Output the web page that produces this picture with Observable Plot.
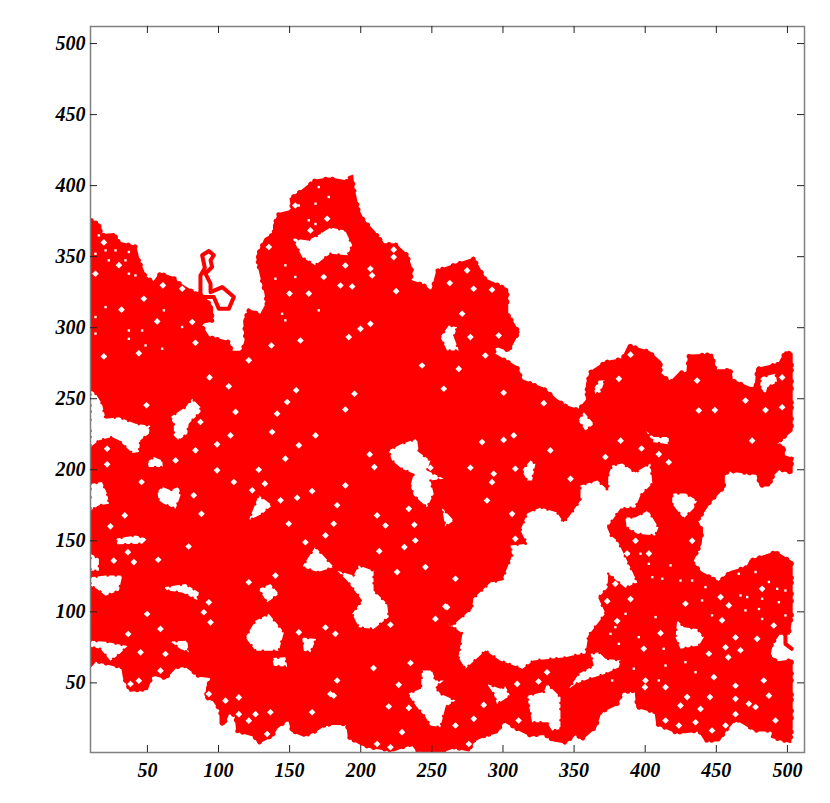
<!DOCTYPE html>
<html><head><meta charset="utf-8">
<script src="https://cdn.jsdelivr.net/npm/d3@7"></script>
<script src="https://cdn.jsdelivr.net/npm/@observablehq/plot@0.6"></script>
<style>html,body{margin:0;padding:0;background:#fff}svg{display:block}</style>
</head><body><div id="chart"></div>
<script>
const tickValues = [50,100,150,200,250,300,350,400,450,500];
const outline = [[10.5,375.6],[17,372],[17,365],[26.4,366],[30,360],[41.6,357],[44,347],[48.7,335.7],[54.5,332],[59,338],[68.6,335],[71,332],[79,327],[84,324],[87,325],[95.5,314.5],[95.5,305],[87,303],[93,293.4],[107,290],[109.6,283],[116.6,283],[119,291],[118,305],[121.3,312],[127,311],[128.3,306.3],[134,317],[133,324],[129.5,338],[127,350],[133,362.6],[139,366],[139,372],[142.4,380],[152,382.6],[150.6,390.8],[159,396.7],[168,403.7],[177.5,405],[185,404],[190,403],[194,407],[195,398],[198.4,382.6],[202,375.5],[209,368],[216,359],[224.4,358.6],[232.6,351],[236,340],[235,333],[244,330],[250,325],[253.7,340],[265.4,344],[279.5,348.5],[287.6,334],[303,327],[303,310],[311,297],[304,284],[294.7,287.5],[293.5,281.6],[310,272],[313.4,263],[328.7,257],[338,249],[344,245],[353,242],[359,249],[359,260.5],[361.6,268.7],[372,275.7],[384,278],[388.5,287.4],[402.6,283],[410.8,275.7],[410.8,267.5],[417.8,261.6],[424.8,268.7],[429.5,267.5],[430.7,280.4],[447,281],[449.4,270],[460,270],[461,263],[472.9,258],[477.6,257],[478.7,271],[494,274.5],[498.6,282.7],[503,281.6],[503,227.6],[491.6,218],[497.5,215.9],[497.5,210],[503,207.6],[503,198],[494,200.6],[490.4,197],[487,189],[481,189],[478.7,197],[458.8,199.4],[455.3,196],[455.3,187.7],[446,178],[436.5,164],[440,157],[439,148],[433,135],[439,128],[451.8,121],[460,128],[471.7,131.5],[474,136],[491.6,142],[503,135],[503,97.5],[501,84.5],[494,84.5],[489,77.5],[487.4,69],[492.8,64.6],[503,65.8],[503,16.5],[502,8.3],[489,11.8],[490.4,16.5],[477.6,16.5],[463.5,24.7],[456.5,16.5],[451.8,9.4],[442.4,9.4],[437.7,16.5],[428.3,15.3],[421.3,15.3],[408.4,21],[407.3,29.4],[394.4,33],[393.2,44.6],[383.8,43.5],[380.3,35],[368.6,29.4],[365,18.8],[355.7,10.6],[351,14],[344,8],[335.7,9.4],[328.7,14],[319.3,13],[310,17.6],[300.5,23.5],[295.8,15.3],[287.6,13],[279.5,9.4],[276,2.4],[265.4,4.7],[256,1.2],[239.6,2.4],[236,7],[229,4.7],[223,2.4],[206.8,4.7],[199.8,7],[191.6,11.8],[190.4,21],[178.7,21],[174,20],[168,16],[160,12.8],[151.8,16.3],[149.4,24.6],[141.2,18.7],[137.7,12.8],[128.3,8],[124.8,12.8],[113.1,16.3],[112,27],[107.2,29],[103.7,21],[101.4,22],[101.4,30.4],[96.7,37.5],[91.3,39.8],[92,46.9],[95.5,54],[86,55],[76.8,62],[69.8,61],[62.7,53.4],[53.4,56],[49.8,45.7],[38,44.5],[33.4,54],[32.3,61],[13.5,65.6],[10.5,62]];
const strandSpur = [[87.3,324],[87.3,336.8],[90.4,342],[88.5,351],[93.2,354],[96.7,351],[94.4,347.4],[95.5,342.7],[90.8,338],[94.4,331],[94.4,325],[102.6,328.6],[110.8,321.6],[107.3,313.4],[100.2,313.4],[96.7,321.6],[87.3,321.6]];
const strandRight = [[498.6,84],[498.6,77.5],[503,74]];
const gaps = [
[[263,89],[278.3,102.4],[279.2,109.4],[291.2,120.7],[299.4,122],[303,131],[306.5,139.7],[305.3,146.7],[317,148],[312.3,157.3],[317,169.3],[326.4,173.5],[338,170],[342.5,163],[346,166.4],[354.5,178.4],[354.5,189],[366.4,192.5],[374,185.4],[374,196],[376.8,203],[384,204.5],[393,198],[403.7,204.5],[405,190.4],[396.7,182],[393,173.5],[382.6,172.8],[373.2,159.4],[375.6,153.8],[380.5,150],[388.2,134],[394.5,120.7],[386,117],[374,127],[373.5,117],[367,110],[372,99],[360,83.4],[358,70.7],[349,69.3],[344,68],[321.4,65.8],[313.7,60],[298,65.8],[287.7,72.8],[273.6,60],[268.7,68],[271.5,84.8],[261.7,91.8]],
[[10,256],[13.5,253.6],[18,246.5],[20.6,236],[30,237],[41.6,232.4],[52,231],[51,225.4],[45,220.7],[44,212.5],[39.3,211.8],[30,220.7],[25,223],[16,220.7],[10,216]],
[[66,237],[76.8,244],[81.5,250],[87.3,244],[87.3,240.7],[79,232.4],[78,225.4],[72,220.7],[68.6,224.2],[68.6,232.4]],
[[50,205.5],[54.5,209],[60.4,206.6],[60.9,202],[51,202]],
[[10,190],[18,191.4],[21.7,183],[23,176],[16,175],[10,171.4]],
[[57,184.3],[60.4,188],[66.2,185.5],[72,188],[73.3,182],[69.8,172.6],[61.6,176],[58,178.5]],
[[121.3,164.4],[128.3,182],[137.7,175],[130.7,169]],
[[27.6,151.5],[41.6,153.8],[50,151.5],[46.3,148],[28.8,147.5]],
[[158.8,131.5],[168,145.6],[181,131.5],[170,128]],
[[152,363],[162.6,361.4],[170,365],[178.7,370.6],[189,368.5],[194,358],[190.7,351],[178.7,352],[175,349.5],[168,344],[159,349.5]],
[[256,293.4],[261.9,301.6],[267.7,300.4],[265.4,293.4],[269,284],[260.7,284]],
[[364,257],[367.4,262.8],[371.6,262.8],[368.6,254.6],[365,253.4]],
[[353,234.6],[356.9,240.5],[363.9,232.3],[358,227.6]],
[[400.2,227.6],[406,223],[416.6,223],[416.6,218],[406,219.4]],
[[481,265],[491.6,267.5],[492.8,261.6],[485.8,258],[484.6,253.4],[481,258]],
[[386,166.4],[393,166.4],[402,171.4],[409.3,159.4],[407,153.8],[394.5,155],[387,159.4]],
[[419,183.3],[428.3,183.3],[436.5,178.4],[434,172.8],[427,165.7],[419,176]],
[[422.5,94],[427.2,89.2],[436.5,88],[441.2,82.2],[437.7,76.3],[424.8,74],[421.3,82.2]],
[[346.3,45.8],[353.4,56.4],[363.9,62.2],[361.6,70.5],[367.4,71.6],[372,67],[382.7,65.8],[381.5,61],[372,56.4],[360.4,52.9],[351,49.3]],
[[219.7,213.6],[229,218.3],[239.6,221.8],[240.8,212.4],[249,206.6],[246.6,199.5],[258.4,193.7],[249,192.5],[251.3,183],[246.6,173.7],[237.3,182],[235,189],[237.3,197.2],[229,200.7],[222,206.6]],
[[183.4,129],[195,125.6],[198.6,132.7],[209,129],[209,115],[218.5,105.7],[219.7,96.3],[209,88],[198.6,89.2],[194,98.6],[201,108],[190.4,122]],
[[313.4,199.5],[319.3,206.6],[322.8,204.2],[320.5,192.5],[317,192.5]],
[[257,173.3],[265.4,164.3],[259.5,160.1]],
[[233,42.3],[242.4,45.8],[243,58.7],[250,58.7],[252.5,51.7],[258.4,51.7],[252.5,47],[256,42.3],[266.6,37.6],[259.5,32.9],[256,18.8],[249,20],[245.5,25.9],[239.6,32.9]],
[[288.8,49.3],[298.2,45.8],[301.7,47.4],[305,41],[295.8,35.2],[293.5,42.3]],
[[317,41],[328.7,43.5],[331,49.3],[340.4,40],[340.4,17.6],[334.5,16.5],[331,22.3],[320.5,22.3]],
[[10,124.3],[20.6,125.5],[32.3,125.5],[30,115],[20.6,111.4],[14.7,116],[10,118.4]],
[[10,141],[15.9,137.4],[15.9,129],[10,129]],
[[119,82],[126,93.8],[135.4,98.5],[146,85.6],[142.4,72.7],[126,72.7]],
[[61.6,117.3],[76.8,119.6],[86.2,113.7],[85,108.3],[74.4,113.7],[64,115]],
[[128.3,116],[136.5,119.6],[142.4,112.6],[134.2,106.7]],
[[158.8,82],[168.6,80.9],[164.7,71.5],[160,72.7]],
[[137.7,67.5],[147,68],[148.3,61.4],[138.9,62]],
[[66.2,79.2],[78,79.7],[79.1,71.5],[73.3,73.8]],
[[10,79.7],[20.6,79],[36,76],[30,70],[24,65.6],[17,74],[10,75.5]]
];
const holes = [[107.2,258.7],[148.3,247.7],[141.2,239.5],[112,240.7],[137.7,226.6],[108.4,224.2],[168.2,224.2],[83.8,213.7],[99,217.9],[21.7,214.8],[21.7,203.8],[69.8,206.6],[147,207.8],[156.5,217.2],[128.3,200],[99,199.6],[110.8,191.4],[123.7,185.5],[165.8,185],[155.3,180.3],[82.6,182],[45.9,191.4],[34.1,167.9],[88,169],[24,160.2],[149.4,162],[161.1,149],[36.3,142],[40.5,135],[26.4,136],[57.6,136.7],[79,146],[154.6,256],[93.7,265],[87.3,233.6],[49.4,245.4],[143.6,178.5],[175.2,153.8],[132.6,190.2],
[47.5,320.4],[13.5,338],[30,344],[19.4,360],[56.9,304.4],[81.5,304],[83.8,289.4],[19.4,279.8],[44,282],[31.8,312.7],[60.9,329.8],[74.5,327.4],[163.5,324],[174,335.7],[137.2,287.5],[121.3,277],[157.6,291],[149.9,324],[135.4,356.8],[164.6,368.5],[176.4,376.7],[154,386],
[185.7,329.7],[194,329],[224.9,325.7],[274.8,340.3],[262.6,331.4],[279.4,327.4],[292.3,326.7],[271.3,309.8],[287.6,280.4],[297,294.5],[243.1,273.4],[268.9,271],[258.4,257],[300.5,254.2],[328.7,246.9],[195.6,253.5],[189.2,242.4],[206.8,302.7],[191.6,293.4],[223.2,349.7],[206.8,341.5],[208,336.8],[223.2,354.9],[277.1,293.4],[199.8,299.2],[189.2,343.8],
[381.5,264],[389.7,281],[409.6,211],[372,209],[397.4,215],[382.7,220.5],[416.6,205.3],[470.5,248.7],[437.7,241.7],[449,242],[475.2,220.5],[484.6,242],[496.3,244],[436.5,262.8],[347.5,193.6],[496.3,265],
[428.3,105.7],[458.8,104.5],[453,110.4],[433,150],[400.2,51.7],[399.8,47],[456.5,75],[458.4,68],[463.5,82],[478.7,81],[490.4,90.4],[467,73],[444.8,70.5],[448.3,54],[463.5,48],[429.5,40],[445.5,40],[463.5,38.8],[472.9,35.3],[438.9,31.7],[414.3,47],[424.8,34],[491.6,23.5],[487,41],[477.6,33],[483.4,51.7],[454,94],[399,74],[410.8,85],[389.7,109],[373.3,107.5],[380.3,93.5],[379,119.7],[387.3,141],[402.6,141],[393.2,150],[482.2,116.2],[447,16.5],[456.5,20],[463.5,28],[414.3,23.5],[423.7,20],[435.4,22.3],
[306.4,169],[288.8,178.4],[285.3,219.5],[307.6,224.2],[300.5,221],[333.3,213.6],[230.7,145.6],[238.4,150.2],[237.7,161.3],[217.4,160.8],[233.8,172.5],[225.6,128],[213,142.7],[209.6,201.9],[206.3,210.8],[189.2,189],[211.5,167.9],[183.4,175],[181,162],[249,201.4],[277.1,201.4],[293.5,197.2],[292.3,191.3],[266.6,123.3],[245.5,131.5],[259.5,103.8],[252.5,95],[220.9,90.9],[308.7,200.7],[308.7,151.4],
[182.2,84.5],[235,64],[226.7,48.6],[181,41],[219.7,33.4],[233.8,32.4],[183.4,51.7],[209,60.4],[229,15.3],[266.6,20],[276,7],[211.5,7],[220.9,4.7],[311,23.5],[310,49.3],[325,51],[331,57.5],[286.5,34.5],[279.5,24.7],[260.7,103.3],
[94.4,92.6],[59.2,88],[36.5,84.4],[49.8,98.5],[62.7,70.3],[89.7,99.7],[178.7,42.2],[104.9,37.5],[136.5,29.3],[165.8,29.3],[121.3,120.8],[140,125.5],[59.2,58.6],[38.1,49.2],[44,51.5],[114.3,28],[126,28],[121.3,23.4],[134.2,14],[93.2,106.7],[175.2,89],[156.5,85.6],[45.2,71.5],[93.2,42.2],[114.3,39.8]];
const specks = [[405,124.4],[412,123.3],[433,122],[442.4,117.4],[465.8,126.8],[477.6,128],[487,121],[492.8,116.2],[498.6,115],[467,111.5],[471.7,110.4],[482.2,109.2],[494,106.8],[480,102],[498.6,97.5],[482.2,95],[470.5,101],[440,108],[447,97.5],[407.3,96.3],[386.2,98.6],[379,89.2],[375.6,84.5],[395.5,82.2],[381.5,77.5],[413,74],[428.3,64.6],[435.4,57.5],[409.6,51.7],[414.3,62.2],[392,60],[376.8,51.7],[402.6,133.8],[388.5,140.9],[396.7,140.9],[417.8,132.7],[424.8,122],
[20.6,314.5],[13.5,307.5],[13.5,295.8],[37,298],[46.3,298],[61.6,312.2],[74.4,300.5],[147,343.9],[140,334.5],[154,335.7],[170.5,312.2],[144.7,309.8],[147,305.2],[37,292.2],[48.7,287.5],[60.4,285.2],
[20.6,354.4],[27.6,354.4],[37,353.3],[22.9,347.4],[34.6,347.4],[13.5,352],[15.9,365],[37,338],[41.6,336.8],
[170.5,399],[177.5,392],[168.2,387.3],[156.5,386],[163.5,375.6],[168.2,373],[172.9,366.2]];

const gapRows = gaps.flatMap((g,i)=>g.map(p=>({x:p[0],y:p[1],g:i})));
const labelStyle = {fontFamily:"'Liberation Serif','Times New Roman',serif",fontWeight:"bold",fontStyle:"italic",fontSize:20,fill:"#000"};
const axisCommon = {ticks:tickValues,tickSize:0,label:null};
const closed = outline.concat([outline[0]]);
const plot = Plot.plot({
  width:830,height:803,marginLeft:90,marginRight:26,marginTop:26,marginBottom:51,
  style:{background:"#fff",overflow:"visible"},
  x:{domain:[10,512],axis:null},
  y:{domain:[1,512],axis:null},
  marks:[
    Plot.line(closed,{x:d=>d[0],y:d=>d[1],fill:"#f00",stroke:"#f00",strokeWidth:2,strokeLinejoin:"round",curve:"linear",clip:true}),
    Plot.line(closed,{x:d=>d[0],y:d=>d[1],stroke:"#f00",strokeWidth:4.5,strokeLinecap:"round",strokeDasharray:"0.1,5,0.1,11,0.1,7,0.1,14",curve:"linear",clip:true}),
    Plot.line(strandSpur,{x:d=>d[0],y:d=>d[1],stroke:"#f00",strokeWidth:4,strokeLinejoin:"round"}),
    Plot.line(strandRight,{x:d=>d[0],y:d=>d[1],stroke:"#f00",strokeWidth:4}),
    Plot.line(gapRows,{x:"x",y:"y",z:"g",fill:"#fff",stroke:"none",curve:"linear-closed"}),
    Plot.line(gapRows,{x:"x",y:"y",z:"g",stroke:"#f00",strokeWidth:2.5,strokeLinecap:"round",strokeDasharray:"0.1,6,0.1,11,0.1,8",curve:"linear-closed",clip:true}),
    Plot.dot(holes,{x:d=>d[0],y:d=>d[1],r:3,symbol:"diamond2",fill:"#fff",stroke:"none"}),
    Plot.dot(specks,{x:d=>d[0],y:d=>d[1],r:1.5,symbol:"square2",fill:"#fff",stroke:"none"}),
    Plot.frame({stroke:"#808080",strokeWidth:1.5}),
    Plot.tickX(tickValues,{x:d=>d,insetTop:719,stroke:"#222",strokeWidth:1}),
    Plot.tickX(tickValues,{x:d=>d,insetBottom:719,stroke:"#222",strokeWidth:1}),
    Plot.tickY(tickValues,{y:d=>d,insetRight:707,stroke:"#222",strokeWidth:1}),
    Plot.tickY(tickValues,{y:d=>d,insetLeft:707,stroke:"#222",strokeWidth:1}),
    Plot.axisX({...axisCommon,anchor:"bottom",tickPadding:10,...labelStyle,stroke:null}),
    Plot.axisY({...axisCommon,anchor:"left",tickPadding:5,...labelStyle,stroke:null}),
  ]
});
document.getElementById("chart").append(plot);
</script></body></html>
